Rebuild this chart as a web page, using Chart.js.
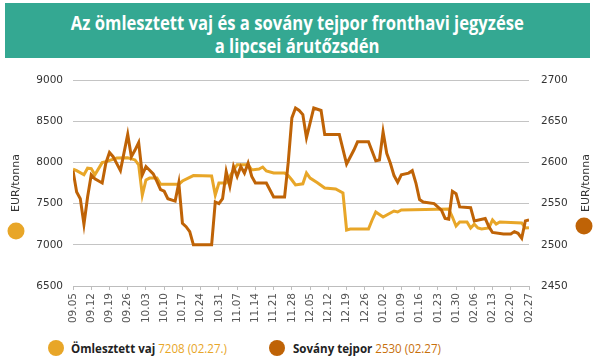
<!DOCTYPE html>
<html><head><meta charset="utf-8">
<script src="https://cdn.jsdelivr.net/npm/chart.js@4"></script>
<style>
html,body{margin:0;padding:0}
body{width:596px;height:357px;background:#fff;position:relative;overflow:hidden;font-family:"Open Sans",sans-serif}
#title{position:absolute;left:5px;top:3px;width:585px;height:55px;background:#34A892;color:#fff}
.tl{position:absolute;left:0;width:585px;text-align:center;font-weight:700;font-size:20px;line-height:24px;white-space:nowrap}
.tl span{display:inline-block;transform-origin:center center}
#c{position:absolute;left:0;top:60px}
.axt{position:absolute;font-family:"DejaVu Sans",sans-serif;font-size:11px;color:#333;white-space:nowrap;transform:translate(-50%,-50%) rotate(-90deg)}
.dot{position:absolute;width:17px;height:17px;border-radius:50%;transform:translate(-50%,-50%)}
.leg{position:absolute;top:340px;white-space:nowrap;font-size:13px;line-height:16px;transform-origin:left center}
.leg b{color:#222;font-weight:700}
</style></head>
<body>
<div id="title">
  <div class="tl" style="top:8px"><span id="t1">Az ömlesztett vaj és a sovány tejpor fronthavi jegyzése</span></div>
  <div class="tl" style="top:31px"><span id="t2">a lipcsei árutőzsdén</span></div>
</div>
<canvas id="c" width="596" height="275"></canvas>
<div class="axt" style="left:15px;top:183px">EUR/tonna</div>
<div class="dot" style="left:16px;top:231px;background:#E8A628"></div>
<div class="axt" style="left:585px;top:183px">EUR/tonna</div>
<div class="dot" style="left:584px;top:226px;background:#BF6306"></div>
<div class="dot" style="left:56px;top:348px;width:16px;height:16px;background:#E8A628"></div>
<div class="leg" id="l1" style="left:71px"><b>Ömlesztett vaj</b> <span style="color:#E8A628">7208 (02.27.)</span></div>
<div class="dot" style="left:277px;top:348px;width:16px;height:16px;background:#BF6306"></div>
<div class="leg" id="l2" style="left:293px"><b>Sovány tejpor</b> <span style="color:#C8700C">2530 (02.27)</span></div>
<script>
const weekLabels = ['09.05','09.12','09.19','09.26','10.03','10.10','10.17','10.24','10.31','11.07','11.14','11.21','11.28','12.05','12.12','12.19','12.26','01.02','01.09','01.16','01.23','01.30','02.06','02.13','02.20','02.27'];
const leftTicks = [6500, 9000, 500];
const rightTicks = [2450, 2700, 50];

// trading-day index (0 = 09.05) and price, EUR/tonna
const vajDay = [0,1,3,4,5,6,8,9,12,15,17,18,19,20,21,23,24,29,30,33,38,39,40,42,43,44,45,48,49,51,52,53,55,58,59,60,61,63,64,65,67,69,72,74,75,76,81,82,83,85,87,88,89,90,103,104,105,106,108,109,110,111,112,114,115,116,117,123,124,125];
const vajPrice = [7920,7900,7850,7930,7925,7850,7997,8010,8053,8057,8030,7970,7604,7787,7810,7810,7734,7734,7774,7840,7835,7604,7750,7750,7830,7908,7970,7970,7908,7920,7944,7896,7872,7872,7840,7786,7726,7740,7871,7810,7754,7690,7677,7629,7180,7192,7192,7301,7398,7337,7386,7410,7398,7422,7434,7337,7228,7277,7277,7204,7250,7204,7192,7204,7301,7252,7277,7265,7204,7208];

const tejDay = [0,1,2,3,4,5,6,8,9,10,11,13,15,16,17,18,19,20,22,23,24,25,26,28,29,30,31,32,33,38,39,40,41,42,43,44,45,46,47,48,49,50,53,55,58,59,60,61,62,63,64,65,66,68,69,73,75,77,78,81,83,84,85,86,87,88,89,90,92,93,94,95,96,99,101,102,103,104,105,106,109,110,113,114,115,118,120,121,122,123,124,125];
const tejPrice = [2590,2564,2556,2525,2558,2585,2580,2575,2599,2612,2607,2590,2634,2607,2615,2624,2585,2595,2586,2577,2567,2565,2556,2553,2575,2526,2522,2516,2500,2500,2552,2550,2556,2589,2571,2595,2583,2595,2587,2599,2583,2575,2575,2558,2558,2600,2654,2666,2663,2658,2630,2648,2666,2663,2634,2634,2598,2615,2625,2625,2602,2603,2637,2611,2599,2584,2576,2585,2587,2590,2575,2555,2552,2550,2542,2532,2531,2565,2562,2546,2545,2529,2532,2522,2515,2513,2513,2516,2514,2508,2529,2530];

// condense title / legend text to reference widths
(function(){
  const t1=document.getElementById('t1'), t2=document.getElementById('t2');
  const s=453/t1.getBoundingClientRect().width;
  t1.style.transform='scaleX('+s+')'; t2.style.transform='scaleX('+s+')';
  const l1=document.getElementById('l1'), l2=document.getElementById('l2');
  l1.style.transform='scaleX('+(156/l1.getBoundingClientRect().width)+')';
  l2.style.transform='scaleX('+(148/l2.getBoundingClientRect().width)+')';
})();

const tickFont={family:'"DejaVu Sans", sans-serif', size:10.5};
new Chart(document.getElementById('c'),{
  type:'line',
  data:{datasets:[
    {label:'Sovány tejpor', data:tejDay.map((d,i)=>({x:d,y:tejPrice[i]})), yAxisID:'yR',
     borderColor:'#BF6306', borderWidth:3, pointRadius:0, tension:0, order:0},
    {label:'Ömlesztett vaj', data:vajDay.map((d,i)=>({x:d,y:vajPrice[i]})), yAxisID:'yL',
     borderColor:'#E8A628', borderWidth:3, pointRadius:0, tension:0, order:1}
  ]},
  options:{
    responsive:false, animation:false, devicePixelRatio:1,
    layout:{padding:{top:20,right:0,left:0,bottom:0}},
    plugins:{legend:{display:false}, tooltip:{enabled:false}},
    scales:{
      x:{type:'linear', min:0, max:125,
         afterFit:s=>{s.height=49;},
         afterBuildTicks:s=>{s.ticks=weekLabels.map((l,i)=>({value:i*5}));},
         ticks:{autoSkip:false, maxRotation:90, minRotation:90, padding:3, color:'#555', font:tickFont,
                callback:(v)=>weekLabels[Math.round(v/5)]},
         grid:{drawOnChartArea:false, drawTicks:true, tickLength:4, color:'#bdbdbd'},
         border:{color:'#bdbdbd'}},
      yL:{position:'left', min:leftTicks[0], max:leftTicks[1],
          afterFit:s=>{s.width=73;},
          ticks:{stepSize:leftTicks[2], padding:10, color:'#333', font:tickFont, callback:v=>String(v)},
          grid:{color:'#c4c4c4', drawTicks:false},
          border:{display:false}},
      yR:{position:'right', min:rightTicks[0], max:rightTicks[1],
          afterFit:s=>{s.width=67;},
          ticks:{stepSize:rightTicks[2], padding:12, color:'#333', font:tickFont, callback:v=>String(v)},
          grid:{drawOnChartArea:false, drawTicks:false},
          border:{display:false}}
    }
  }
});
</script>
</body></html>
